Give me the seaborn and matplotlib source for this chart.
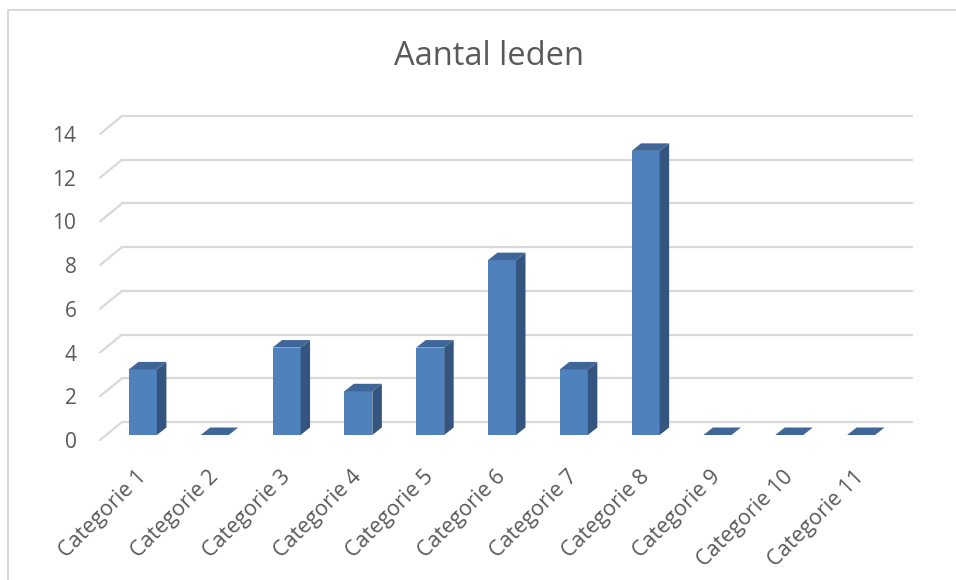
import numpy as np
import pandas as pd
import seaborn as sns
import matplotlib.pyplot as plt
from matplotlib.patches import Polygon, Rectangle
from matplotlib.transforms import ScaledTranslation

categories = ['Categorie 1', 'Categorie 2', 'Categorie 3', 'Categorie 4', 'Categorie 5', 'Categorie 6',
              'Categorie 7', 'Categorie 8', 'Categorie 9', 'Categorie 10', 'Categorie 11']
leden = [3, 0, 4, 2, 4, 8, 3, 13, 0, 0, 0]
yticks = [0, 2, 4, 6, 8, 10, 12, 14]

df = pd.DataFrame({'categorie': categories, 'leden': leden})

front = '#4f81bd'
side = '#34557f'
top = '#3e6699'
grid = '#d9d9d9'
txt = '#595959'

sns.set_theme(style='white')
plt.rcParams['font.family'] = ['Open Sans', 'DejaVu Sans']

fig = plt.figure(figsize=(9.56, 5.8), dpi=100)
ax = fig.add_axes([100 / 956, 140 / 580, 790 / 956, 306 / 580])

sns.barplot(data=df, x='categorie', y='leden', color=front, width=0.39,
            saturation=1, ax=ax, linewidth=0, zorder=3)
ax.set_xlim(-0.5, len(categories) - 0.5)
ax.set_ylim(0, 14)

# 3d-ish offsets in pixels
wall_dx, wall_dy = 22, 18
bar_dx, bar_dy = 7, 5
dep_dx, dep_dy = 9.5, 7.5

back = ax.transData + ScaledTranslation(wall_dx / 100, wall_dy / 100, fig.dpi_scale_trans)
for v in yticks:
    ax.plot([-0.5, len(categories) - 0.5], [v, v], color=grid, lw=1.6, transform=back,
            clip_on=False, zorder=1)
    x0, y0 = ax.transData.transform((-0.5, v))
    ax.plot([x0, x0 + wall_dx], [y0, y0 + wall_dy], color=grid, lw=1.6, transform=None,
            clip_on=False, zorder=1)

shift = ScaledTranslation(bar_dx / 100, bar_dy / 100, fig.dpi_scale_trans)
for p in ax.patches:
    p.set_transform(ax.transData + shift)
    p.set_clip_on(False)
    bb = p.get_window_extent()
    x0, x1, y0, y1 = bb.x0, bb.x1, bb.y0, bb.y1
    if y1 - y0 > 0.5:
        sd = Polygon([(x1, y0), (x1 + dep_dx, y0 + dep_dy), (x1 + dep_dx, y1 + dep_dy), (x1, y1)],
                     closed=True, facecolor=side, edgecolor='none', transform=None, zorder=3)
        fig.patches.append(sd)
    tp = Polygon([(x0, y1), (x1, y1), (x1 + dep_dx, y1 + dep_dy), (x0 + dep_dx, y1 + dep_dy)],
                 closed=True, facecolor=top, edgecolor='none', transform=None, zorder=3)
    fig.patches.append(tp)

ax.set_yticks(yticks)
ax.set_yticklabels([str(v) for v in yticks], fontsize=15, color=txt)
ax.set_xticks(range(len(categories)))
ax.set_xticklabels(categories, rotation=45, ha='right', rotation_mode='anchor',
                   fontsize=15.5, color=txt)
ax.tick_params(axis='x', pad=19, length=0)
ax.tick_params(axis='y', pad=17, length=0)
ax.set_xlabel('')
ax.set_ylabel('')
for s in ax.spines.values():
    s.set_visible(False)
ax.set_facecolor('none')

fig.text(0.511, 0.902, 'Aantal leden', ha='center', va='center', fontsize=23.5, color=txt)
fig.patches.append(Rectangle((8 / 956, -0.1), 1.1, 0.1 + 570 / 580, transform=fig.transFigure,
                             facecolor='none', edgecolor='#d9d9d9', lw=1.5))

fig.savefig('out.png', dpi=100)
